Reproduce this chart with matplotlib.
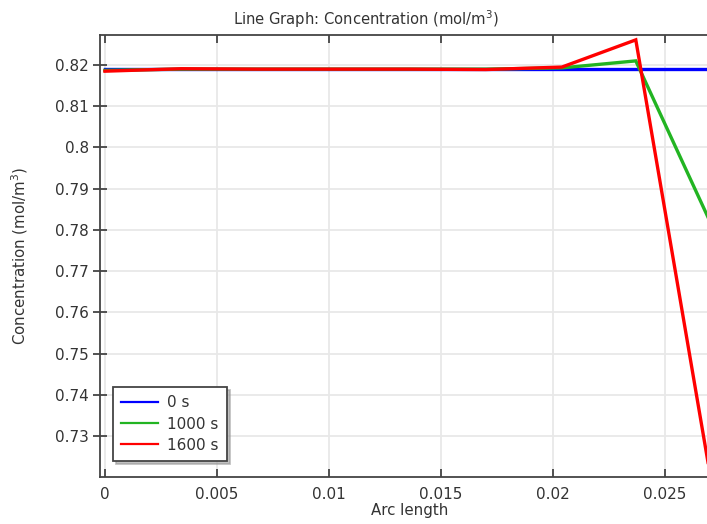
import numpy as np
import matplotlib
matplotlib.use("Agg")
import matplotlib.pyplot as plt
from matplotlib.ticker import FuncFormatter

plt.rcParams['font.family'] = ['DejaVu Sans']
plt.rcParams['text.color'] = '#333333'
plt.rcParams['axes.labelcolor'] = '#333333'

# arc length nodes along the cut line
arc = [0.0, 0.0034, 0.0068, 0.0102, 0.0136, 0.0170, 0.0204, 0.0237, 0.0271]

# concentration at each time step (mol/m^3)
c_0s = [0.8190, 0.8190, 0.8190, 0.8190, 0.8190, 0.8190, 0.8190, 0.8190, 0.8190]
c_1000s = [0.8187, 0.8190, 0.8190, 0.8190, 0.8190, 0.8190, 0.8193, 0.8210, 0.7810]
c_1600s = [0.8185, 0.8191, 0.8190, 0.8190, 0.8190, 0.8189, 0.8195, 0.8261, 0.7180]

labels = ['0 s', '1000 s', '1600 s']
colors = ['#0000ff', '#22b422', '#ff0000']

x_ticks = [0, 0.005, 0.01, 0.015, 0.02, 0.025]
y_ticks = [0.73, 0.74, 0.75, 0.76, 0.77, 0.78, 0.79, 0.80, 0.81, 0.82]

fig = plt.figure(figsize=(7.07, 5.24), dpi=100)
ax = fig.add_axes([0.1414, 0.0897, 0.877, 0.8435])

for c, lab, col in zip([c_0s, c_1000s, c_1600s], labels, colors):
    ax.plot(arc, c, color=col, lw=2.4, label=lab, solid_joinstyle='miter')

ax.set_xlim(-0.000223, 0.02746)
ax.set_ylim(0.72005, 0.82728)
ax.set_xticks(x_ticks)
ax.set_yticks(y_ticks)
fmt = FuncFormatter(lambda v, p: '%g' % round(v, 4))
ax.xaxis.set_major_formatter(fmt)
ax.yaxis.set_major_formatter(fmt)

ax.grid(True, color='#e8e8e8', lw=1.3)
ax.set_axisbelow(True)
for s in ax.spines.values():
    s.set_color('#444444')
    s.set_linewidth(1.3)

ax.tick_params(axis='x', direction='in', length=6, width=1.3, color='#444444',
               labelsize=11, labelcolor='#333333', top=True, pad=7)
ax.tick_params(axis='y', direction='inout', length=10, width=1.3, color='#444444',
               labelsize=11, labelcolor='#333333', right=True, pad=3)

ax.set_xlabel('Arc length', fontsize=10.8, labelpad=1)
ax.set_ylabel('Concentration (mol/m$^3$)', fontsize=10.8)
ax.yaxis.set_label_coords(-0.113, 0.5)

fig.text(366 / 707, 1 - 19 / 524, 'Line Graph: Concentration (mol/m$^3$)',
         ha='center', va='center', fontsize=10.6, color='#333333')

leg = ax.legend(loc='lower left', bbox_to_anchor=(0.021, 0.036), borderaxespad=0,
                fontsize=11, handlelength=2.4, handletextpad=0.6,
                labelspacing=0.4, borderpad=0.55, fancybox=False,
                shadow={'color': '0.6', 'alpha': 0.6}, framealpha=1)
leg.get_frame().set_edgecolor('#444444')
leg.get_frame().set_linewidth(1.3)
for ln in leg.get_lines():
    ln.set_linewidth(1.6)

fig.savefig('out.png', dpi=100)
